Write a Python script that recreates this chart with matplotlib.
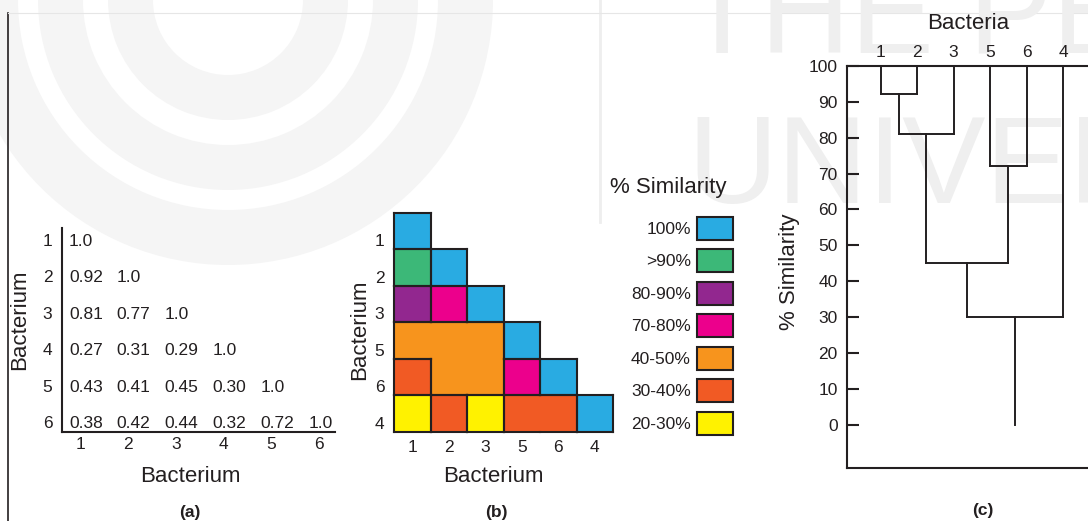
import matplotlib
matplotlib.use("Agg")
import matplotlib.pyplot as plt
import numpy as np
from matplotlib.colors import ListedColormap, BoundaryNorm
from matplotlib.collections import LineCollection
from matplotlib.patches import Patch, Wedge

plt.rcParams['font.family'] = ['Liberation Sans', 'DejaVu Sans']

# ---------------- data ----------------
bacteria = ["1", "2", "3", "4", "5", "6"]
similarity_rows = [
    [1.0],
    [0.92, 1.0],
    [0.81, 0.77, 1.0],
    [0.27, 0.31, 0.29, 1.0],
    [0.43, 0.41, 0.45, 0.30, 1.0],
    [0.38, 0.42, 0.44, 0.32, 0.72, 1.0],
]
cluster_order = ["1", "2", "3", "5", "6", "4"]

category_labels = ["100%", ">90%", "80-90%", "70-80%", "40-50%", "30-40%", "20-30%"]
category_lower = [1.0, 0.9, 0.8, 0.7, 0.4, 0.3, 0.2]
category_colors = ["#29ABE2", "#3CB878", "#92278F", "#EC008C", "#F7941D", "#F15A24", "#FFF200"]

merge_pairs = [(("1",), ("2",)), (("1", "2"), ("3",)), (("5",), ("6",)),
               (("1", "2", "3"), ("5", "6")), (("1", "2", "3", "5", "6"), ("4",))]
merge_heights = [92, 81, 72, 45, 30]
sim_ticks = [0, 10, 20, 30, 40, 50, 60, 70, 80, 90, 100]

INK = "#231f20"
W, H = 1088, 521
fig = plt.figure(figsize=(W / 100, H / 100), dpi=100)

def fx(px):
    return px / W

def fy(py):
    return 1 - py / H

# ---------------- faint page background (watermark) ----------------
bg = fig.add_axes([0, 0, 1, 1], zorder=-5)
bg.set_xlim(0, W)
bg.set_ylim(H, 0)
bg.axis("off")
WM = "#f5f5f5"
for r_in, r_out in [(75, 120), (145, 190), (210, 265)]:
    bg.add_patch(Wedge((228, 0), r_out, 0, 360, width=r_out - r_in,
                       facecolor=WM, edgecolor="none"))
bg.plot([600, 600], [0, 222], color="#eeeeee", lw=2)
bg.text(684, 53, "THE PEOPLE'S", fontsize=90, color="#efefef",
        family=["Liberation Sans"], va="baseline")
bg.text(687, 203, "UNIVERSITY", fontsize=90, color="#efefef",
        family=["Liberation Sans"], va="baseline")
bg.plot([8, 8], [13, H], color=INK, lw=1.2)
bg.plot([8, W], [12.5, 12.5], color="#e6e6e6", lw=0.8)

TICK_FS = 12.5
LAB_FS = 16

# ---------------- panel (a) ----------------
ax_a = fig.add_axes([fx(62), fy(432), (335 - 62) / W, (432 - 228) / H])
ax_a.patch.set_alpha(0)
ax_a.set_xlim(-0.377, 5.33)
ax_a.set_ylim(5.27, -0.33)
for s in ["top", "right"]:
    ax_a.spines[s].set_visible(False)
for s in ["left", "bottom"]:
    ax_a.spines[s].set_linewidth(1.5)
    ax_a.spines[s].set_color(INK)
ax_a.set_xticks(range(len(bacteria)), bacteria)
ax_a.set_yticks(range(len(bacteria)), bacteria)
ax_a.tick_params(axis="x", length=0, pad=3.5, labelsize=TICK_FS, colors=INK)
ax_a.tick_params(axis="y", length=0, pad=7, labelsize=TICK_FS, colors=INK)
for i, row in enumerate(similarity_rows):
    for j, v in enumerate(row):
        txt = "1.0" if v == 1.0 else f"{v:.2f}"
        ax_a.text(j - 0.23, i, txt, ha="left", va="center_baseline",
                  fontsize=TICK_FS, color=INK)
ax_a.set_xlabel("Bacterium", fontsize=LAB_FS, va="center", color=INK)
ax_a.xaxis.set_label_coords((190 - 62) / 273, (432 - 477) / 204)
ax_a.set_ylabel("Bacterium", fontsize=LAB_FS, va="center", ha="center", color=INK)
ax_a.yaxis.set_label_coords((20 - 62) / 273, (432 - 320) / 204)

# ---------------- panel (b) ----------------
n = len(bacteria)
full = np.zeros((n, n))
for i, row in enumerate(similarity_rows):
    for j, v in enumerate(row):
        full[i, j] = v
        full[j, i] = v

def category(v):
    for k, lo in enumerate(category_lower):
        if v >= lo - 1e-9:
            return k
    return len(category_lower) - 1

idx = [bacteria.index(b) for b in cluster_order]
cat = np.full((n, n), -1)
for r in range(n):
    for c in range(r + 1):
        cat[r, c] = category(full[idx[r], idx[c]])

ax_b = fig.add_axes([fx(394), fy(432), 219 / W, 219.3 / H])
ax_b.patch.set_alpha(0)
cmap = ListedColormap(category_colors)
norm = BoundaryNorm(np.arange(-0.5, len(category_colors) + 0.5), cmap.N)
ax_b.pcolormesh(np.arange(n + 1), np.arange(n + 1), np.ma.masked_less(cat, 0),
                cmap=cmap, norm=norm)

def other(rr, cc):
    if 0 <= rr < n and 0 <= cc < n:
        return cat[rr, cc]
    return -1

segs = []
for r in range(n):
    for c in range(r + 1):
        k = cat[r, c]
        if other(r - 1, c) != k:
            segs.append([(c, r), (c + 1, r)])
        if other(r + 1, c) != k:
            segs.append([(c, r + 1), (c + 1, r + 1)])
        if other(r, c - 1) != k:
            segs.append([(c, r), (c, r + 1)])
        if other(r, c + 1) != k:
            segs.append([(c + 1, r), (c + 1, r + 1)])
ax_b.add_collection(LineCollection(segs, colors=INK, linewidths=1.5,
                                   capstyle="projecting", clip_on=False, zorder=3))
ax_b.set_xlim(0, n)
ax_b.set_ylim(n, 0)
for s in ax_b.spines.values():
    s.set_visible(False)
ax_b.set_xticks(np.arange(n) + 0.5, cluster_order)
ax_b.set_yticks(np.arange(n) + 0.75, cluster_order)
ax_b.tick_params(axis="x", length=0, pad=6, labelsize=TICK_FS, colors=INK)
ax_b.tick_params(axis="y", length=0, pad=7, labelsize=TICK_FS, colors=INK)
ax_b.set_xlabel("Bacterium", fontsize=LAB_FS, va="center", color=INK)
ax_b.xaxis.set_label_coords((493 - 394) / 219, (432 - 477) / 219.3)
ax_b.set_ylabel("Bacterium", fontsize=LAB_FS, va="center", ha="center", color=INK)
ax_b.yaxis.set_label_coords((360 - 394) / 219, (432 - 330) / 219.3)

handles = [Patch(facecolor=c, edgecolor=INK, linewidth=1.5, label=l)
           for c, l in zip(category_colors, category_labels)]
leg = fig.legend(handles=handles, loc="upper right",
                 bbox_to_anchor=(fx(733), fy(216.5)), frameon=False,
                 fontsize=TICK_FS, markerfirst=False, handlelength=2.07,
                 handleheight=1.69, labelspacing=0.53, handletextpad=0.35,
                 borderpad=0, borderaxespad=0)
for t in leg.get_texts():
    t.set_color(INK)
fig.text(fx(668), fy(188), "% Similarity", fontsize=LAB_FS, ha="center",
         va="center", color=INK)

# ---------------- panel (c) ----------------
ax_c = fig.add_axes([fx(846.7), fy(468.3), (1130 - 846.7) / W, (468.3 - 65.7) / H])
ax_c.patch.set_alpha(0)
ax_c.set_xlim(-0.93, (1130 - 880.7) / 36.5)
ax_c.set_ylim(-12, 100)
ax_c.spines["right"].set_visible(False)
for s in ["top", "left", "bottom"]:
    ax_c.spines[s].set_linewidth(1.5)
    ax_c.spines[s].set_color(INK)

pos = {(b,): (k, 100.0) for k, b in enumerate(cluster_order)}
dseg = []
for (a, b), h in zip(merge_pairs, merge_heights):
    xa, ya = pos[a]
    xb, yb = pos[b]
    dseg += [[(xa, ya), (xa, h)], [(xb, yb), (xb, h)], [(xa, h), (xb, h)]]
    pos[tuple(sorted(a + b, key=cluster_order.index))] = ((xa + xb) / 2, h)
root_x, root_y = pos[tuple(cluster_order)]
dseg.append([(root_x, root_y), (root_x, 0)])
ax_c.add_collection(LineCollection(dseg, colors=INK, linewidths=1.4,
                                   capstyle="projecting"))

ax_c.set_yticks(sim_ticks)
ax_c.tick_params(axis="y", direction="in", length=8.6, width=1.5, pad=6.5,
                 labelsize=TICK_FS, colors=INK)
ax_c.xaxis.set_ticks_position("top")
ax_c.xaxis.set_label_position("top")
ax_c.set_xticks(range(n), cluster_order)
ax_c.tick_params(axis="x", length=0, pad=4, labelsize=TICK_FS, colors=INK)
ax_c.set_xlabel("Bacteria", fontsize=LAB_FS, va="center", color=INK)
ax_c.xaxis.set_label_coords((968 - 846.7) / 283.3, (468.3 - 24) / 402.6)
ax_c.set_ylabel("% Similarity", fontsize=LAB_FS, va="center", ha="center", color=INK)
ax_c.yaxis.set_label_coords((789 - 846.7) / 283.3, (468.3 - 272) / 402.6)

# panel letters
for x, y, s in [(190, 512, "(a)"), (496, 513, "(b)"), (983, 510, "(c)")]:
    fig.text(fx(x), fy(y), s, ha="center", va="center", fontsize=12.5,
             fontweight="bold", color=INK)

fig.savefig("out.png", dpi=100)
